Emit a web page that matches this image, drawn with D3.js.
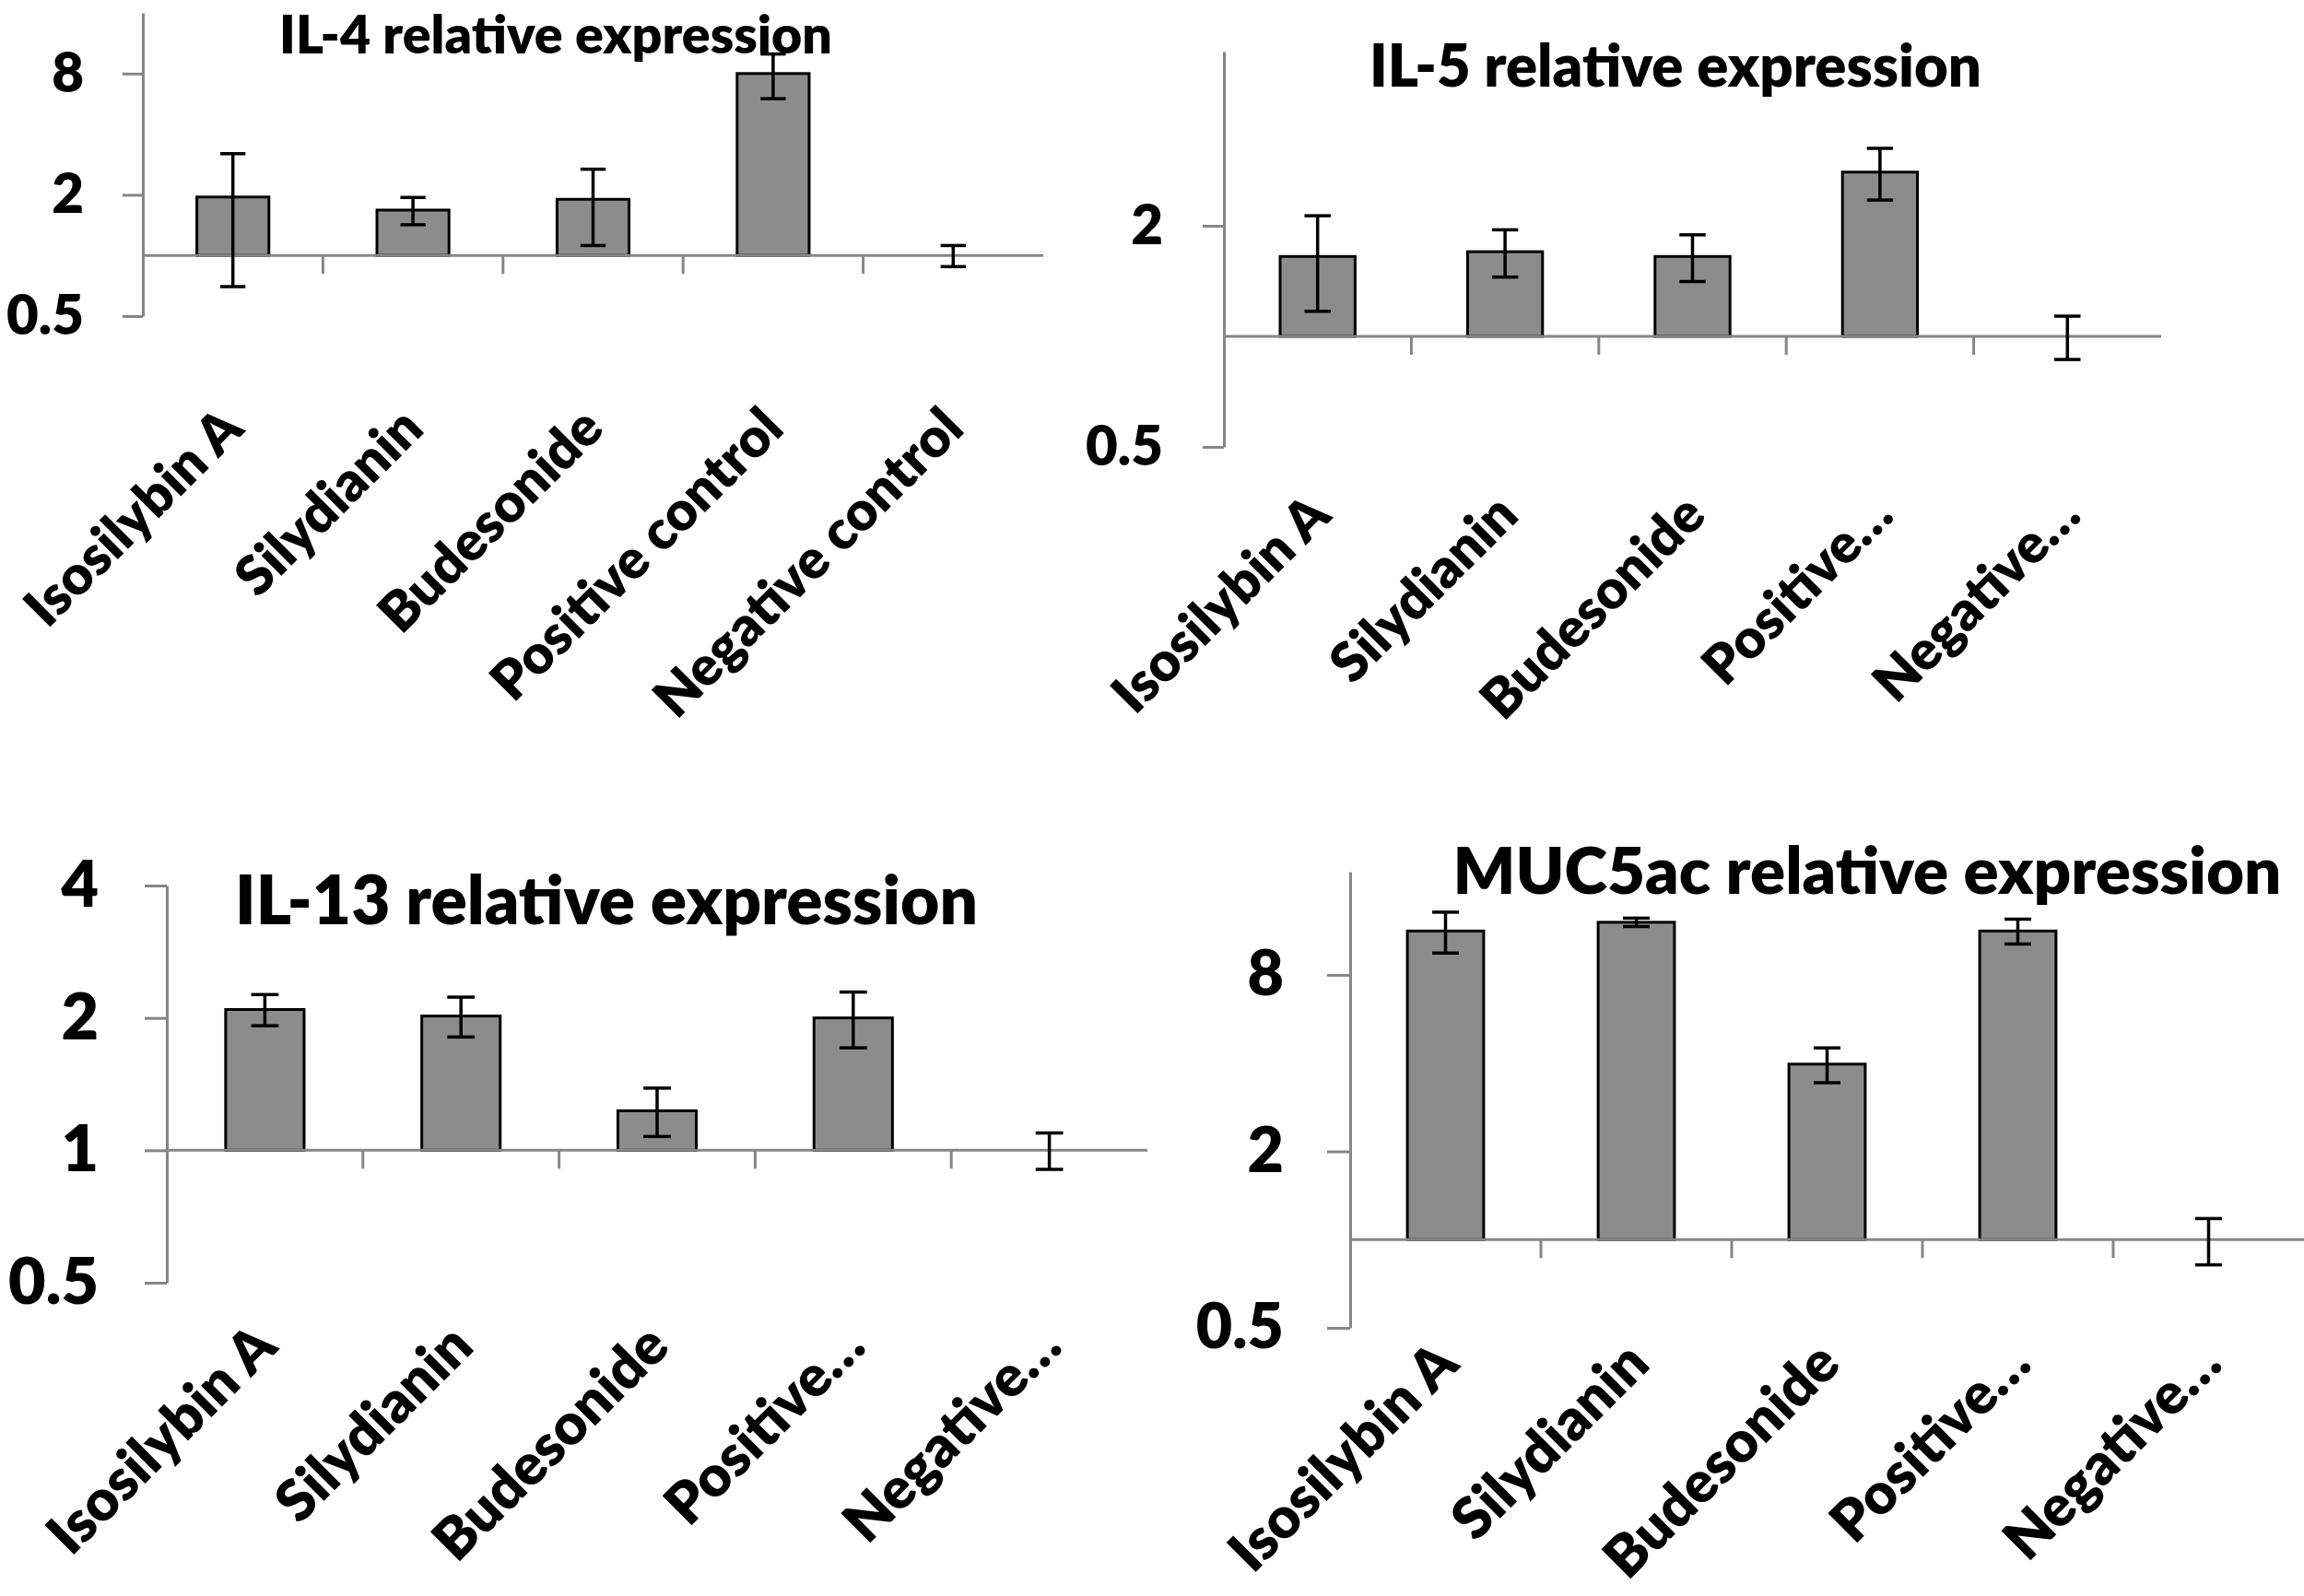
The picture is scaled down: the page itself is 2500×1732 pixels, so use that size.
<!DOCTYPE html>
<html>
<head>
<meta charset="utf-8">
<script src="https://cdn.jsdelivr.net/npm/d3@7"></script>
<style>
  body { margin: 0; background: #fff; }
  text { font-family: Lato, "Open Sans", sans-serif; font-weight: 800; fill: #000; }
</style>
</head>
<body>
<div id="chart"></div>
<script>
// categories
const categories = ['Isosilybin A', 'Silydianin', 'Budesonide', 'Positive control', 'Negative control'];
const shortCategories = ['Isosilybin A', 'Silydianin', 'Budesonide', 'Positive…', 'Negative…'];

// relative expression (mean) and error (+/-)
const il4Mean = [1.95, 1.68, 1.90, 8.0, 1.0];
const il4Err = [1.25, 0.26, 0.78, 2.0, 0.12];
const il5Mean = [1.65, 1.70, 1.65, 2.80, 1.0];
const il5Err = [0.48, 0.25, 0.24, 0.45, 0.135];
const il13Mean = [2.09, 2.02, 1.23, 2.0, 1.0];
const il13Err = [0.17, 0.21, 0.155, 0.29, 0.095];
const mucMean = [11.3, 12.1, 3.97, 11.3, 1.0];
const mucErr = [1.8, 0.4, 0.54, 1.1, 0.18];

// axis ticks
const il4Ticks = [0.5, 2, 8];
const il5Ticks = [0.5, 2];
const il13Ticks = [0.5, 1, 2, 4];
const mucTicks = [0.5, 2, 8];

const W = 2500, H = 1732;
const axisColor = '#868686';

const svg = d3.select('#chart')
  .append('svg')
  .attr('width', W)
  .attr('height', H)
  .style('background', '#fff');

// Fit a text element to a given width by changing its font size
const fitWidth = (sel, w) => {
  sel.attr('font-size', 100);
  const len = sel.node().getComputedTextLength();
  sel.attr('font-size', 100 * w / len);
};

const drawPanel = (p) => {
  const g = svg.append('g');

  const x = d3.scaleBand()
    .domain(d3.range(p.labels.length))
    .range([p.x0, p.x1]);

  const y = d3.scaleLog()
    .base(2)
    .domain(p.domain)
    .range([p.yBottom, p.yTop]);

  const bw = x.bandwidth();
  const rows = p.mean.map((m, i) => ({ i, mean: m, err: p.err[i], label: p.labels[i] }));

  // y axis
  g.append('g')
    .attr('transform', `translate(${p.x0},0)`)
    .call(d3.axisLeft(y)
      .tickValues(p.ticks)
      .tickFormat((d) => String(d))
      .tickSize(p.tickSize)
      .tickSizeOuter(0)
      .tickPadding(p.tickPad))
    .call((a) => {
      a.select('.domain').attr('stroke', axisColor).attr('stroke-width', 3);
      a.selectAll('.tick line').attr('stroke', axisColor).attr('stroke-width', 3);
      a.selectAll('.tick text')
        .attr('font-size', p.tickFont)
        .attr('font-family', 'Lato')
        .attr('font-weight', 800)
        .attr('fill', '#000');
    });

  // bars (from the value 1 baseline)
  g.selectAll('rect.bar')
    .data(rows.filter((d) => d.mean !== 1))
    .enter()
    .append('rect')
    .attr('class', 'bar')
    .attr('x', (d) => x(d.i) + bw * 0.3)
    .attr('width', bw * 0.4)
    .attr('y', (d) => y(d.mean))
    .attr('height', (d) => y(1) - y(d.mean))
    .attr('fill', '#8c8c8c')
    .attr('stroke', '#000')
    .attr('stroke-width', 3);

  // category axis at value 1
  g.append('line')
    .attr('x1', p.x0).attr('x2', p.x1)
    .attr('y1', y(1)).attr('y2', y(1))
    .attr('stroke', axisColor).attr('stroke-width', 3);

  g.selectAll('line.cat-tick')
    .data(d3.range(1, p.labels.length))
    .enter()
    .append('line')
    .attr('class', 'cat-tick')
    .attr('x1', (i) => x(i)).attr('x2', (i) => x(i))
    .attr('y1', y(1)).attr('y2', y(1) + 20)
    .attr('stroke', axisColor).attr('stroke-width', 3);

  // error bars
  const cap = bw * 0.07;
  const eb = g.selectAll('g.err')
    .data(rows)
    .enter()
    .append('g')
    .attr('class', 'err')
    .attr('stroke', '#000')
    .attr('stroke-width', 3.5);

  eb.append('line')
    .attr('x1', (d) => x(d.i) + bw / 2).attr('x2', (d) => x(d.i) + bw / 2)
    .attr('y1', (d) => y(d.mean + d.err)).attr('y2', (d) => y(d.mean - d.err));
  eb.append('line')
    .attr('x1', (d) => x(d.i) + bw / 2 - cap).attr('x2', (d) => x(d.i) + bw / 2 + cap)
    .attr('y1', (d) => y(d.mean + d.err)).attr('y2', (d) => y(d.mean + d.err));
  eb.append('line')
    .attr('x1', (d) => x(d.i) + bw / 2 - cap).attr('x2', (d) => x(d.i) + bw / 2 + cap)
    .attr('y1', (d) => y(d.mean - d.err)).attr('y2', (d) => y(d.mean - d.err));

  // rotated category labels
  g.selectAll('text.cat')
    .data(rows)
    .enter()
    .append('text')
    .attr('class', 'cat')
    .attr('text-anchor', 'end')
    .attr('font-size', p.labelFont)
    .attr('transform', (d) => `translate(${x(d.i) + bw / 2 + p.labDx},${p.yBottom + p.labDy}) rotate(-45)`)
    .text((d) => d.label);

  // title
  const t = g.append('text')
    .attr('x', p.titleX)
    .attr('y', p.titleY)
    .attr('text-anchor', 'middle')
    .text(p.title);
  fitWidth(t, p.titleW);
};

const panels = [
  {
    title: 'IL-4 relative expression', titleX: 603, titleY: 58, titleW: 600,
    labels: categories, mean: il4Mean, err: il4Err, ticks: il4Ticks, domain: [0.5, 16],
    x0: 155, x1: 1132, yTop: 14, yBottom: 343,
    tickSize: 22, tickPad: 42, tickFont: 60, labelFont: 59, labDx: 14, labDy: 125
  },
  {
    title: 'IL-5 relative expression', titleX: 1818, titleY: 94, titleW: 664,
    labels: shortCategories, mean: il5Mean, err: il5Err, ticks: il5Ticks, domain: [0.5, 5.96],
    x0: 1328, x1: 2345, yTop: 56, yBottom: 485,
    tickSize: 23, tickPad: 43, tickFont: 60, labelFont: 59, labDx: 17, labDy: 77
  },
  {
    title: 'IL-13 relative expression', titleX: 658, titleY: 1003, titleW: 806,
    labels: shortCategories, mean: il13Mean, err: il13Err, ticks: il13Ticks, domain: [0.5, 4],
    x0: 181, x1: 1245, yTop: 961, yBottom: 1392,
    tickSize: 24, tickPad: 50, tickFont: 70, labelFont: 62, labDx: 16, labDy: 72
  },
  {
    title: 'MUC5ac relative expression', titleX: 2026, titleY: 970, titleW: 899,
    labels: shortCategories, mean: mucMean, err: mucErr, ticks: mucTicks, domain: [0.5, 18],
    x0: 1465, x1: 2500, yTop: 946, yBottom: 1441,
    tickSize: 25, tickPad: 47, tickFont: 68, labelFont: 62, labDx: 17, labDy: 42
  }
];

panels.forEach(drawPanel);
</script>
</body>
</html>
